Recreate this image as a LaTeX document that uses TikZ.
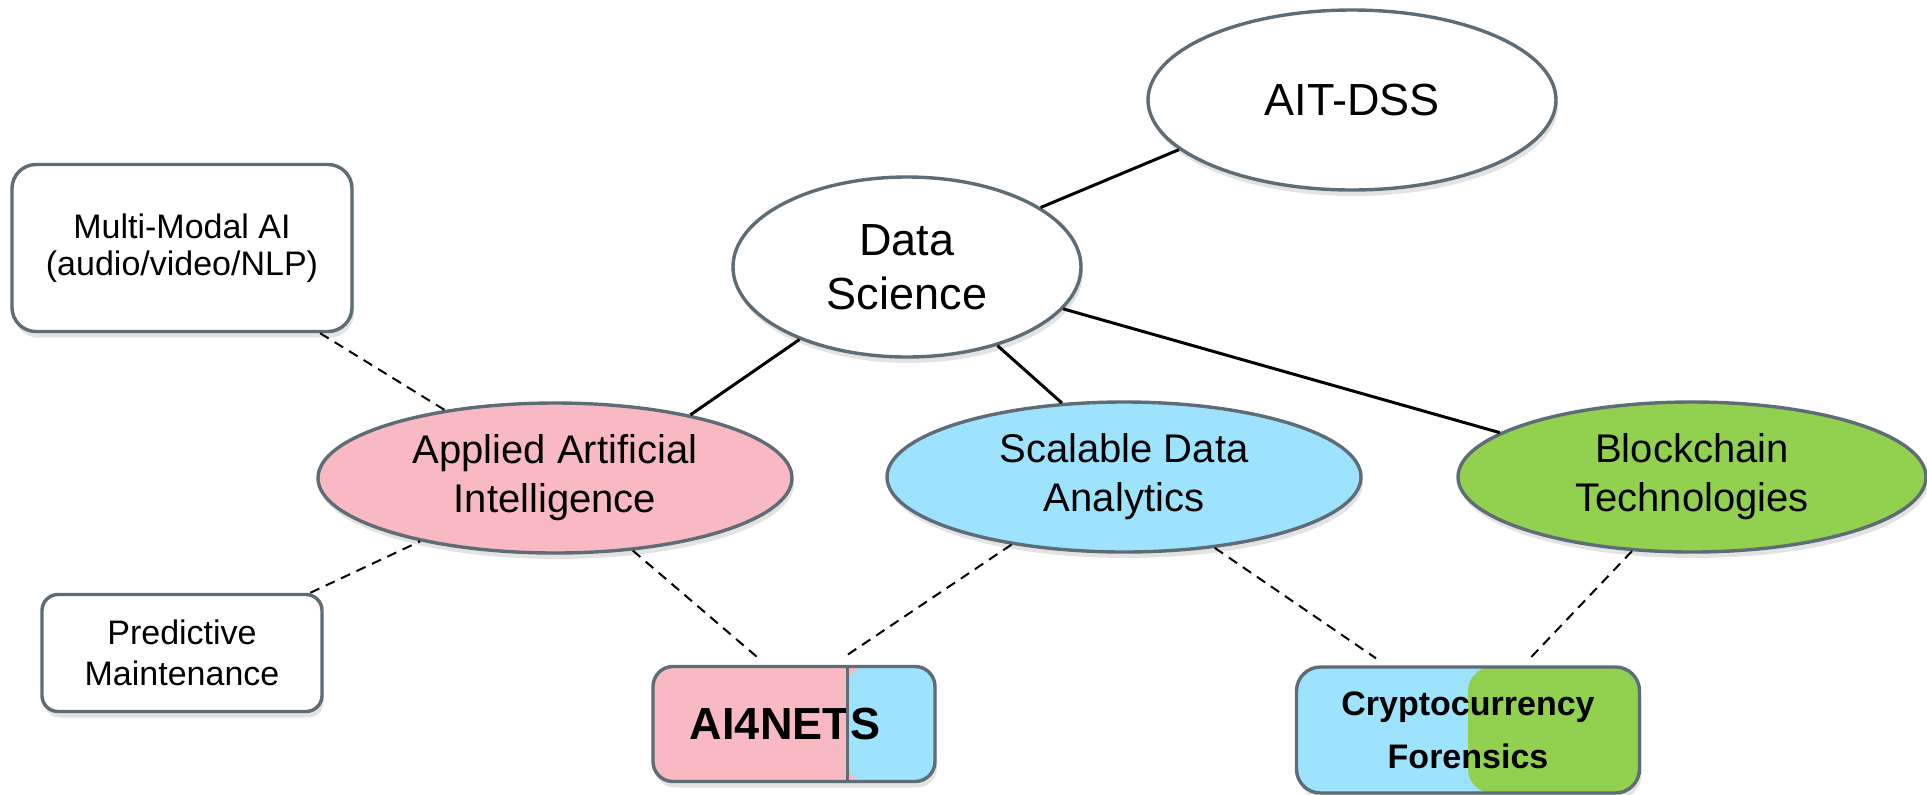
\documentclass[tikz,border=0pt]{standalone}
\usepackage{fontspec}
\setmainfont{Liberation Sans}
\usetikzlibrary{shapes.geometric,shadows,calc}

\definecolor{edgegray}{RGB}{94,108,118}
\definecolor{aipink}{RGB}{249,185,194}
\definecolor{sdablue}{RGB}{157,227,253}
\definecolor{bcgreen}{RGB}{146,208,80}

\begin{document}
\begin{tikzpicture}[x=0.5pt,y=-0.5pt,
    softshadow/.style={drop shadow={opacity=0.22,shadow xshift=1pt,shadow yshift=-3pt}},
    topic/.style={ellipse,draw=edgegray,line width=1.7pt,inner sep=0pt,align=center,softshadow},
    leaf/.style={rectangle,draw=edgegray,line width=1.7pt,inner sep=0pt,align=center,softshadow},
    halfsplit/.style 2 args={path picture={\fill[#2]
        ($(path picture bounding box.south west)!#1!(path picture bounding box.south east)$)
        rectangle (path picture bounding box.north east);}},
    strong/.style={black,line width=1.5pt},
    weak/.style={black,line width=1pt,dash pattern=on 5pt off 3.5pt}]
  \useasboundingbox (0,0) rectangle (1927,794);

  \node[topic,fill=white,minimum width=204pt,minimum height=90pt,
    font=\fontsize{22.5}{27}\selectfont] (ait) at (1352,100) {AIT-DSS};
  \node[topic,fill=white,minimum width=174pt,minimum height=90pt,
    font=\fontsize{22.5}{27}\selectfont] (ds) at (907,267) {Data\\Science};

  \node[topic,fill=aipink,minimum width=237pt,minimum height=75pt,
    font=\fontsize{20}{24.5}\selectfont] (aai) at (555,478) {Applied Artificial\\Intelligence};
  \node[topic,fill=sdablue,minimum width=237pt,minimum height=75pt,
    font=\fontsize{20}{24.5}\selectfont] (sda) at (1124,477) {Scalable Data\\Analytics};
  \node[topic,fill=bcgreen,minimum width=234pt,minimum height=75pt,
    font=\fontsize{20}{24.5}\selectfont] (bct) at (1692,477) {Blockchain\\Technologies};

  \node[leaf,fill=white,rounded corners=12pt,minimum width=170pt,minimum height=83.5pt,
    font=\fontsize{17}{18.5}\selectfont] (mmai) at (182,248) {Multi-Modal AI\\(audio/video/NLP)};
  \node[leaf,fill=white,rounded corners=8pt,minimum width=140pt,minimum height=58.5pt,
    font=\fontsize{17}{20.5}\selectfont] (pm) at (182,653) {Predictive\\Maintenance};

  \node[leaf,fill=aipink,halfsplit={0.688}{sdablue},rounded corners=10pt,
    minimum width=141pt,minimum height=57.5pt,
    font=\bfseries\fontsize{22.5}{27}\selectfont] (ai4nets) at (794,724) {AI4NETS\hspace{9pt}};
  \draw[edgegray,line width=1.7pt]
    ($(ai4nets.north west)!0.688!(ai4nets.north east)$) --
    ($(ai4nets.south west)!0.688!(ai4nets.south east)$);
  \node[leaf,fill=sdablue,halfsplit={0.5}{bcgreen},rounded corners=12pt,
    minimum width=171.5pt,minimum height=63pt,
    font=\bfseries\fontsize{17}{26.5}\selectfont] (crypto) at (1468,730) {Cryptocurrency\\Forensics};

  \foreach \a/\b in {ds.24/ait.196,ds.214/aai.25,ds.319/sda.130,ds.345/bct.167}
    \draw[strong] (\a) -- (\b);

  \draw[weak] (mmai) -- (aai);
  \draw[weak] (pm) -- (aai);
  \draw[weak] (aai.317) -- ([xshift=-18pt,yshift=3.5pt]ai4nets.north);
  \draw[weak] (sda.211) -- ([xshift=24.5pt,yshift=3.5pt]ai4nets.north);
  \draw[weak] (sda.322) -- ([xshift=-46pt,yshift=3.5pt]crypto.north);
  \draw[weak] (bct.231) -- ([xshift=31pt,yshift=3.5pt]crypto.north);
\end{tikzpicture}
\end{document}
